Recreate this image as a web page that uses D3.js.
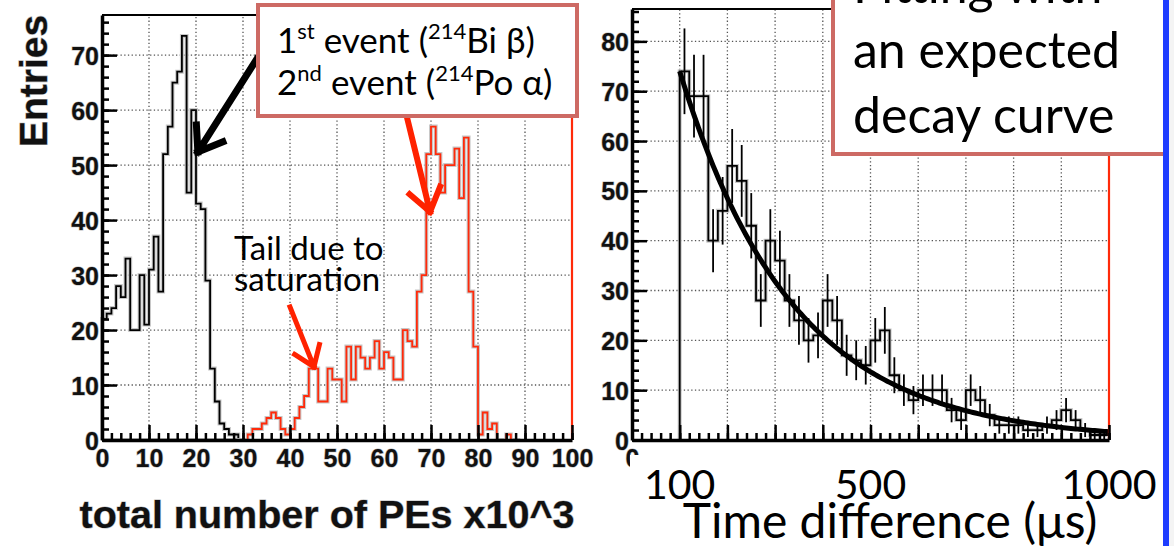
<!DOCTYPE html>
<html>
<head>
<meta charset="utf-8">
<script src="https://cdn.jsdelivr.net/npm/d3@7"></script>
<style>
body { margin: 0; background: #fff; }
svg { display: block; }
.root { font-family: "Liberation Sans", Arial, sans-serif; font-weight: bold; fill: #111; }
.slide { font-family: Lato, "Open Sans", sans-serif; fill: #000; }
</style>
</head>
<body>
<svg id="chart" width="1174" height="546"></svg>
<script>
// ---- left panel: total number of PEs (x10^3), bins of 1 ----
const peBinWidth = 1
const firstEventStart = 0
const firstEvent = [22, 23, 24, 28, 26, 33, 20, 20, 30, 21, 31, 37, 27, 52, 57, 65, 67, 73.5, 45, 60,
    43, 42, 29, 13, 7, 3, 2, 1, 1]
const secondEventStart = 31
const secondEvent = [1, 2, 2, 3, 4, 5, 4, 2, 1, 2, 4, 6, 8, 13, 13, 7, 7, 13, 11, 11,
    7, 17, 11, 17, 15, 13, 15, 18, 13, 16, 15, 11, 11, 20, 18, 17, 27, 30, 52, 57,
    52, 45, 50, 50, 53, 44, 55, 27, 17, 1, 5, 2, 3, 0, 0, 1]
const peTicks = [0, 10, 20, 30, 40, 50, 60, 70, 80, 90, 100]
const entryTicks = [0, 10, 20, 30, 40, 50, 60, 70]

// ---- right panel: time difference (us), bins of 20 from 100 ----
const dtBinWidth = 20
const dtStart = 100
const dtCounts = [74, 69, 69, 40, 46, 55, 52, 43, 28, 40, 36, 28, 24, 20, 21, 28, 24, 17, 16, 15,
    20, 22, 13, 10, 8, 10, 10, 10, 6, 4, 10, 8, 5, 3, 3, 3, 2, 2, 3, 4,
    6, 4, 2, 1, 1]
const dtTicks = [0, 100, 200, 300, 400, 500, 600, 700, 800, 900, 1000]
const dtEntryTicks = [0, 10, 20, 30, 40, 50, 60, 70, 80]
const slideTimeLabels = [100, 500, 1000]
// expected decay curve (214Po mean life)
const fitAmp = 74
const fitTau = 237

const svg = d3.select("#chart")

const xPE = d3.scaleLinear().domain([0, 100]).range([102, 572])
const yPE = d3.scaleLinear().domain([0, 77.3]).range([440, 15])
const xT = d3.scaleLinear().domain([0, 1000]).range([632, 1109])
const yT = d3.scaleLinear().domain([0, 86.5]).range([440, 9])

function grid(g, xs, ys, xv, yv) {
    g.selectAll(".gx").data(xv).enter().append("line")
        .attr("x1", d => xs(d)).attr("x2", d => xs(d))
        .attr("y1", ys.range()[0]).attr("y2", ys.range()[1])
    g.selectAll(".gy").data(yv).enter().append("line")
        .attr("y1", d => ys(d)).attr("y2", d => ys(d))
        .attr("x1", xs.range()[0]).attr("x2", xs.range()[1])
    g.selectAll("line")
        .attr("stroke", "#555").attr("stroke-width", 1.3)
        .attr("stroke-dasharray", "1.3,2.4")
}

function histPoints(values, start, w) {
    let pts = [[start, 0]]
    values.forEach((v, i) => {
        pts.push([start + i * w, v])
        pts.push([start + (i + 1) * w, v])
    })
    pts.push([start + values.length * w, 0])
    return pts
}

function drawHist(g, pts, xs, ys, color, width) {
    const line = d3.line().x(d => xs(d[0])).y(d => ys(Math.min(d[1], ys.domain()[1])))
    g.append("path").attr("d", line(pts)).attr("fill", "none")
        .attr("stroke", "#c8c8c8").attr("stroke-width", width + 2.2)
    g.append("path").attr("d", line(pts)).attr("fill", "none")
        .attr("stroke", color).attr("stroke-width", width)
}

function styleAxis(g, w) {
    g.selectAll("path.domain").attr("stroke", "#000").attr("stroke-width", w)
    g.selectAll(".tick line").attr("stroke", "#000").attr("stroke-width", 2.5)
    g.selectAll("text").attr("class", "root").attr("font-size", 25)
        .attr("stroke", "#bbb").attr("stroke-width", 1.2).attr("paint-order", "stroke")
}

function axes(xs, ys, xMajor, xMinor, yMajor, yMinor, xFormat) {
    const x0 = xs.range()[0], y0 = ys.range()[0]
    const gxm = svg.append("g").attr("transform", "translate(0," + y0 + ")")
        .call(d3.axisBottom(xs).tickValues(xMinor).tickSize(-7).tickSizeOuter(0).tickFormat(""))
    gxm.select("path.domain").remove()
    gxm.selectAll(".tick line").attr("stroke", "#000").attr("stroke-width", 2.5)
    const gym = svg.append("g").attr("transform", "translate(" + x0 + ",0)")
        .call(d3.axisLeft(ys).tickValues(yMinor).tickSize(-7).tickSizeOuter(0).tickFormat(""))
    gym.select("path.domain").remove()
    gym.selectAll(".tick line").attr("stroke", "#000").attr("stroke-width", 2.5)

    const gx = svg.append("g").attr("transform", "translate(0," + y0 + ")")
        .call(d3.axisBottom(xs).tickValues(xMajor).tickSize(-15).tickSizeOuter(0).tickPadding(9)
            .tickFormat(xFormat))
    styleAxis(gx, 3.5)
    gx.selectAll("text").filter(function () { return this.textContent === "" }).remove()
    const gy = svg.append("g").attr("transform", "translate(" + x0 + ",0)")
        .call(d3.axisLeft(ys).tickValues(yMajor).tickSize(-15).tickSizeOuter(0).tickPadding(3)
            .tickFormat(d3.format("d")))
    styleAxis(gy, 3.5)
    gy.selectAll("text").attr("dy", "0.36em")
}

function arrow(g, xs, ys, a, color, width, head) {
    const x1 = xs(a.from[0]), y1 = ys(a.from[1]), x2 = xs(a.to[0]), y2 = ys(a.to[1])
    const ang = Math.atan2(y2 - y1, x2 - x1)
    const path = d3.path()
    path.moveTo(x1, y1); path.lineTo(x2, y2)
    for (const s of [-1, 1]) {
        path.moveTo(x2, y2)
        path.lineTo(x2 - head * Math.cos(ang + s * 0.62), y2 - head * Math.sin(ang + s * 0.62))
    }
    g.append("path").attr("d", path.toString()).attr("fill", "none")
        .attr("stroke", color).attr("stroke-width", width)
        .attr("stroke-linecap", "square").attr("stroke-linejoin", "miter")
}

// ================= left panel =================
const gl = svg.append("g")
grid(gl.append("g"), xPE, yPE, d3.range(10, 100, 10), d3.range(10, 80, 10))
axes(xPE, yPE, peTicks, d3.range(0, 101, 2), entryTicks, d3.range(0, 77, 2), d3.format("d"))

drawHist(gl, histPoints(firstEvent, firstEventStart, peBinWidth), xPE, yPE, "#000", 1.8)
let redBins = d3.range(0, secondEventStart).map(() => 0).concat(secondEvent).concat([0, 0])
drawHist(gl, histPoints(redBins, 0, peBinWidth), xPE, yPE, "#ff2a0a", 1.8)

// frame
gl.append("line").attr("x1", xPE(0)).attr("x2", xPE(100)).attr("y1", yPE(77.3)).attr("y2", yPE(77.3))
    .attr("stroke", "#000").attr("stroke-width", 2)
gl.append("line").attr("x1", xPE(100)).attr("x2", xPE(100)).attr("y1", yPE(77.3)).attr("y2", yPE(0))
    .attr("stroke", "#ff2a0a").attr("stroke-width", 2.2)

svg.append("text").attr("class", "root").attr("font-size", 39)
    .attr("transform", "translate(47,81) rotate(-90)").attr("text-anchor", "middle")
    .attr("stroke", "#bbb").attr("stroke-width", 1.2).attr("paint-order", "stroke")
    .text("Entries")
svg.append("text").attr("class", "root").attr("font-size", 39.5)
    .attr("x", 327).attr("y", 528).attr("text-anchor", "middle")
    .attr("stroke", "#bbb").attr("stroke-width", 1.2).attr("paint-order", "stroke")
    .text("total number of PEs x10^3")

// ================= right panel =================
const gr = svg.append("g")
grid(gr.append("g"), xT, yT, d3.range(100, 1000, 100), d3.range(10, 90, 10))
// only the "0" of the original time axis peeks out from under the slide labels
axes(xT, yT, dtTicks, d3.range(0, 1001, 20), dtEntryTicks, d3.range(0, 87, 2), d => d === 0 ? "0" : "")

drawHist(gr, histPoints(dtCounts, dtStart, dtBinWidth), xT, yT, "#000", 1.8)
// error bars
gr.selectAll(".err").data(dtCounts).enter().append("line")
    .attr("x1", (d, i) => xT(dtStart + (i + 0.5) * dtBinWidth))
    .attr("x2", (d, i) => xT(dtStart + (i + 0.5) * dtBinWidth))
    .attr("y1", d => yT(Math.max(0, d - Math.sqrt(d))))
    .attr("y2", d => yT(d + Math.sqrt(d)))
    .attr("stroke", "#000").attr("stroke-width", 1.8)
// fit curve
const fitT = d3.range(dtStart, 1000.1, 5)
gr.append("path")
    .attr("d", d3.line().x(t => xT(t)).y(t => yT(fitAmp * Math.exp(-(t - dtStart) / fitTau)))(fitT))
    .attr("fill", "none").attr("stroke", "#000").attr("stroke-width", 5)

gr.append("line").attr("x1", xT(0)).attr("x2", xT(1000)).attr("y1", yT(86.5)).attr("y2", yT(86.5))
    .attr("stroke", "#000").attr("stroke-width", 2)
gr.append("line").attr("x1", xT(1000)).attr("x2", xT(1000)).attr("y1", yT(86.5)).attr("y2", yT(0))
    .attr("stroke", "#ff2a0a").attr("stroke-width", 2.2)

// slide overlay covering the original time labels
svg.append("rect").attr("x", 630).attr("y", 455).attr("width", 533).attr("height", 91).attr("fill", "#fff")
svg.selectAll(".tl").data(slideTimeLabels).enter().append("text")
    .attr("class", "slide").attr("font-size", 41)
    .attr("x", d => xT(d)).attr("y", 499).attr("text-anchor", "middle")
    .text(d => d)
svg.append("text").attr("class", "slide").attr("font-size", 48)
    .attr("x", 890).attr("y", 538).attr("text-anchor", "middle")
    .text("Time difference (\u03bcs)")

// ================= annotations =================
const noteArrows = [
    {from: [35.1, 72.2], to: [20.4, 52.4], color: "#000", width: 7, head: 27},
    {from: [64, 61.8], to: [69.8, 41.5], color: "#ff2200", width: 6, head: 27},
    {from: [40, 24.2], to: [45.1, 13.3], color: "#ff2200", width: 5, head: 23}
]
noteArrows.forEach(a => arrow(svg, xPE, yPE, a, a.color, a.width, a.head))

svg.append("text").attr("class", "slide").attr("font-size", 33)
    .selectAll("tspan").data(["Tail due to", "saturation"]).enter().append("tspan")
    .attr("x", 234).attr("y", (d, i) => 260 + i * 31).text(d => d)

// left box
svg.append("rect").attr("x", 258).attr("y", 5).attr("width", 319).attr("height", 111)
    .attr("fill", "#fff").attr("stroke", "#cd6a64").attr("stroke-width", 4)
function supLine(y, parts) {
    const t = svg.append("text").attr("class", "slide").attr("font-size", 35).attr("x", 277).attr("y", y)
    parts.forEach(p => {
        const s = t.append("tspan").text(p[0])
        if (p[1]) s.attr("font-size", 22).attr("dy", -14)
        else s.attr("dy", p[2] || 0)
    })
}
supLine(53, [["1"], ["st", true], [" event (", false, 14], ["214", true], ["Bi \u03b2)", false, 14]])
supLine(95, [["2"], ["nd", true], [" event (", false, 14], ["214", true], ["Po \u03b1)", false, 14]])

// right box
svg.append("rect").attr("x", 833).attr("y", -20).attr("width", 345).attr("height", 174)
    .attr("fill", "#fff").attr("stroke", "#cd6a64").attr("stroke-width", 4)
svg.append("text").attr("class", "slide").attr("font-size", 50)
    .selectAll("tspan").data(["Fitting with", "an expected", "decay curve"]).enter().append("tspan")
    .attr("x", 853).attr("y", (d, i) => 3 + i * 65).text(d => d)

// slide edge
svg.append("rect").attr("x", 1163).attr("y", 0).attr("width", 6).attr("height", 546).attr("fill", "#1e3cff")
svg.append("rect").attr("x", 1169).attr("y", 0).attr("width", 5).attr("height", 546).attr("fill", "#f4f4f4")
</script>
</body>
</html>
